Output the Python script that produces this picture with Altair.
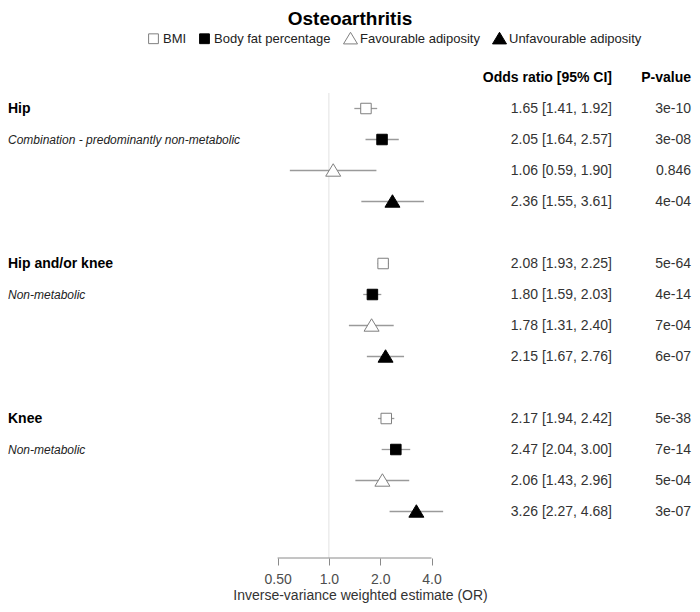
import altair as alt
import pandas as pd

# ---------------- data ----------------
title_text = "Osteoarthritis"
groups = ["Hip", "Hip and/or knee", "Knee"]
sublabels = ["Combination - predominantly non-metabolic", "Non-metabolic", "Non-metabolic"]
exposures = ["BMI", "Body fat percentage", "Favourable adiposity", "Unfavourable adiposity"]
or_values = [1.65, 2.05, 1.06, 2.36, 2.08, 1.80, 1.78, 2.15, 2.17, 2.47, 2.06, 3.26]
ci_low = [1.41, 1.64, 0.59, 1.55, 1.93, 1.59, 1.31, 1.67, 1.94, 2.04, 1.43, 2.27]
ci_high = [1.92, 2.57, 1.90, 3.61, 2.25, 2.03, 2.40, 2.76, 2.42, 3.00, 2.96, 4.68]
p_values = ["3e-10", "3e-08", "0.846", "4e-04", "5e-64", "4e-14", "7e-04", "6e-07",
            "5e-38", "7e-14", "5e-04", "3e-07"]
tick_values = [0.5, 1.0, 2.0, 4.0]
tick_labels = ["0.50", "1.0", "2.0", "4.0"]
header_or = "Odds ratio [95% CI]"
header_p = "P-value"
x_title = "Inverse-variance weighted estimate (OR)"

# ---------------- tables ----------------
STEP = len(exposures) + 1  # one blank row between outcome groups
rows = []
for gi, g in enumerate(groups):
    for ei, e in enumerate(exposures):
        k = gi * len(exposures) + ei
        rows.append({
            "row": gi * STEP + ei,
            "exposure": e,
            "OR": or_values[k],
            "lo": ci_low[k],
            "hi": ci_high[k],
            "or_text": f"{or_values[k]:.2f} [{ci_low[k]:.2f}, {ci_high[k]:.2f}]",
            "p": p_values[k],
        })
df = pd.DataFrame(rows)
group_df = pd.DataFrame({"row": [gi * STEP for gi in range(len(groups))], "text": groups})
sub_df = pd.DataFrame({"row": [gi * STEP + 1 for gi in range(len(groups))], "text": sublabels})
header_df = pd.DataFrame({"row": [-1], "or_h": [header_or], "p_h": [header_p]})
n_rows = len(groups) * STEP - 1
ref_df = pd.DataFrame({"x": [1.0], "y": [-0.5]})
axis_df = pd.DataFrame({"x": [min(tick_values)], "x2": [max(tick_values)]})

# ---------------- styling ----------------
FONT = "Liberation Sans"
W, H = 684, 496
label_expr = " : ".join(
    f"datum.value == {v} ? '{l}'" for v, l in zip(tick_values, tick_labels)
) + " : ''"

x_axis = alt.Axis(
    values=tick_values, labelExpr=label_expr, domain=False, grid=False,
    ticks=True, tickSize=7, tickColor="#8a8a8a", tickWidth=1,
    labelFont=FONT, labelFontSize=14, labelColor="#4d4d4d", labelPadding=7,
    labelFlush=False, labelOverlap=False,
    title=x_title, titleFont=FONT, titleFontSize=14, titleFontWeight="normal",
    titleColor="#333333", titlePadding=2, titleX=352, titleAlign="center",
)
x_scale = alt.Scale(type="log", domain=[0.0131, 135], nice=False)
y_scale = alt.Scale(domain=[-1.5, n_rows + 0.5], reverse=True, nice=False, zero=False)
Y = alt.Y("row:Q", scale=y_scale, axis=None)

square = "M-0.7,-0.7H0.7V0.7H-0.7Z"
tri = "M0,-0.9L1,0.76L-1,0.76Z"
shapes = [square, square, tri, tri]
fills = ["white", "black", "white", "black"]
strokes = ["#7f7f7f", "black", "#7f7f7f", "black"]

legend = alt.Legend(
    title=None, orient="none", direction="horizontal", legendX=138, legendY=-31,
    labelFont=FONT, labelFontSize=13, labelColor="#222222", symbolSize=196,
    symbolStrokeWidth=1, labelOffset=2, columnPadding=10, padding=0,
)

ref = alt.Chart(ref_df).mark_rule(color="#e2e2e2", strokeWidth=1).encode(
    x=alt.X("x:Q", scale=x_scale, axis=x_axis),
    y=alt.Y("y:Q", scale=y_scale, axis=None),
    y2=alt.value(H),
)
axis_line = alt.Chart(axis_df).mark_rule(color="#8a8a8a", strokeWidth=1).encode(
    x=alt.X("x:Q", scale=x_scale, axis=x_axis),
    x2="x2:Q",
    y=alt.value(H),
)
ci = alt.Chart(df).mark_rule(color="#9a9a9a", strokeWidth=1.3).encode(
    x=alt.X("lo:Q", scale=x_scale, axis=x_axis),
    x2="hi:Q",
    y=Y,
)
pts = alt.Chart(df).mark_point(filled=True, size=225, strokeWidth=1, opacity=1).encode(
    x=alt.X("OR:Q", scale=x_scale, axis=x_axis),
    y=Y,
    shape=alt.Shape("exposure:N", scale=alt.Scale(domain=exposures, range=shapes), legend=legend),
    fill=alt.Fill("exposure:N", scale=alt.Scale(domain=exposures, range=fills), legend=legend),
    stroke=alt.Stroke("exposure:N", scale=alt.Scale(domain=exposures, range=strokes), legend=legend),
)
grp_txt = alt.Chart(group_df).mark_text(
    align="left", baseline="middle", font=FONT, fontSize=14, fontWeight="bold", color="black"
).encode(x=alt.value(0), y=Y, text="text:N")
sub_txt = alt.Chart(sub_df).mark_text(
    align="left", baseline="middle", font=FONT, fontSize=12, fontStyle="italic", color="#222222"
).encode(x=alt.value(0), y=Y, text="text:N")
or_txt = alt.Chart(df).mark_text(
    align="right", baseline="middle", font=FONT, fontSize=14, color="#333333"
).encode(x=alt.value(604), y=Y, text="or_text:N")
p_txt = alt.Chart(df).mark_text(
    align="right", baseline="middle", font=FONT, fontSize=14, color="#333333"
).encode(x=alt.value(683), y=Y, text="p:N")
hdr_or = alt.Chart(header_df).mark_text(
    align="right", baseline="middle", font=FONT, fontSize=14, fontWeight="bold", color="black"
).encode(x=alt.value(604), y=Y, text="or_h:N")
hdr_p = alt.Chart(header_df).mark_text(
    align="right", baseline="middle", font=FONT, fontSize=14, fontWeight="bold", color="black"
).encode(x=alt.value(683), y=Y, text="p_h:N")

chart = alt.layer(
    ref, axis_line, ci, pts, grp_txt, sub_txt, or_txt, p_txt, hdr_or, hdr_p
).properties(
    width=W, height=H,
    title=alt.TitleParams(title_text, font=FONT, fontSize=19, fontWeight="bold",
                          color="black", anchor="middle", frame="group", dy=2),
    autosize=alt.AutoSizeParams(type="none"),
    padding={"left": 0, "top": 54, "right": 0, "bottom": 46},
).configure_view(stroke=None)

chart.save("out.html", embed_options={"renderer": "svg", "actions": False})
